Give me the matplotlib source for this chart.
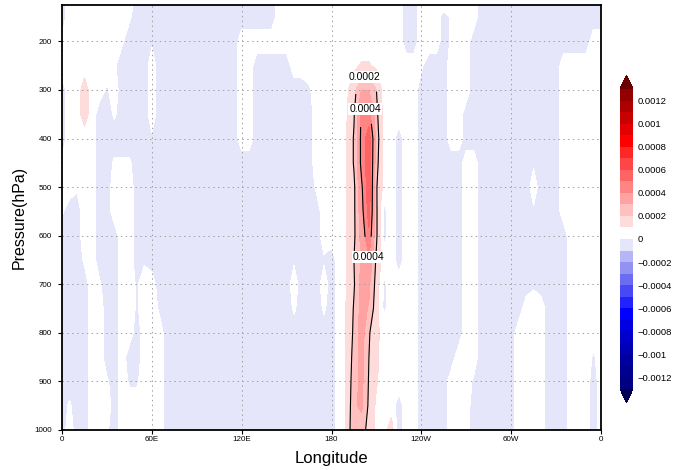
import numpy as np
import matplotlib
matplotlib.use("Agg")
import matplotlib.pyplot as plt
from matplotlib.colors import ListedColormap, BoundaryNorm

plt.rcParams['font.family'] = ['Liberation Sans', 'DejaVu Sans']

# grid of the cross-section
lons = np.arange(0, 361, 5)
pres = [125, 150, 200, 250, 300, 350, 400, 450, 500, 550, 600, 650, 700, 750, 800, 850, 900, 950, 1000]

# background field, one char per 5 deg column, blocks of 10 columns (units 1e-4)
# '-' weak negative, '~' very weak negative, ',' very weak positive, '.' weak positive, '1' 0.00015
char_val = {'-': -0.5, '~': -0.15, ',': 0.15, '.': 0.5, '1': 1.5}
rows = [
    "-......... ---------- ---------. .......... ......--.. ......---- ---------- ---",
    "-........, ---------- ---------. .......... ......--.. .-,...---- ---------- ---",
    ",.......,- --~------- ----...... .......... ......--.. .-,..----- ---------- -..",
    ".......,-- --.------- ----..---- -......... ........,- --...----- -------... ...",
    "-..1..~.-- --.------- ----..---- ---~...... ........-- --...----- -------... ...",
    "-..1.--,-- --.------- ----..---- ----...... ........-- --..------ -------... ...",
    "-....----- --~------- ----..---- ----...... .....-..-- --..------ -------... ...",
    ",....--,,, ---------- ---------- ----...... .....-..-- ----..---- ---~---... ...",
    "..,..--... ---------- ---------- ----,..... .....-..-- ----..---- ---.---... ...",
    ",--..--... ---------- ---------- -----..... .....-..-- ----..---- ---~---... ...",
    "---..---.. ---------- ---------- -----..... .....-..-- ----..---- --------.. ...",
    "---,.---.. -~-------- ---------- -~---~-... .....-..-- ----..---- --------.. ...",
    "----.,--.. ~..------- ---------- -.---.-... ........-- ----..---- ---~----.. ...",
    "----..--.. ~..~------ ---------- -,---,-... ........-- ----..---- --...---.. ...",
    "----..--.. -...------ ---------- -------... ........-- ----..---- -....---.. ...",
    "----..--.- -...------ ---------- -------... ........-- ---...---- -....---.. .~.",
    "----..,-.~ ~...------ ---------- -------... ........-- --...~---- -....---.. .-.",
    "-,--...-.. ....------ ---------- -------... .....-..-- --...----- -....---.. .-.",
    "-.--..,-.. ....------ ---------- -------... ....1-..-- --...----- -....---.. .-.",
]

# jet core columns (lon 185..215), units 1e-4
jet_lon = [185, 190, 195, 200, 205, 210, 215]
jet_vals = [
    [0.5, 0.5, 0.5, 0.5, 0.5, 0.5, 0.5],
    [0.5, 0.5, 0.5, 0.5, 0.5, 0.5, 0.5],
    [0.5, 0.5, 0.5, 0.5, 0.5, 0.5, 0.5],
    [0.5, 0.5, 0.8, 1.1, 1.1, 0.8, 0.5],
    [0.5, 0.8, 1.6, 3.0, 3.0, 2.0, 0.6],
    [0.5, 0.9, 1.9, 4.2, 4.4, 2.3, 0.6],
    [0.5, 1.0, 2.1, 4.3, 5.6, 2.6, 0.7],
    [0.5, 1.0, 2.1, 4.3, 5.6, 2.4, 0.7],
    [0.5, 1.0, 1.8, 3.8, 5.6, 2.1, 0.7],
    [0.5, 1.0, 1.8, 3.6, 5.4, 2.2, -0.3],
    [0.5, 1.0, 1.8, 3.3, 4.8, 2.2, -0.3],
    [0.5, 1.0, 2.0, 3.2, 3.9, 1.8, 0.5],
    [0.5, 1.0, 1.9, 3.3, 3.2, 1.6, -0.2],
    [0.5, 1.05, 2.1, 3.4, 2.9, 1.4, -0.2],
    [0.5, 1.1, 2.2, 3.5, 2.1, 1.3, 0.5],
    [0.5, 1.1, 2.4, 3.4, 2.0, 1.2, 0.5],
    [0.5, 1.1, 2.6, 3.3, 1.9, 1.1, 0.5],
    [0.5, 1.1, 2.8, 3.2, 1.8, 0.8, 0.5],
    [0.5, 1.1, 3.0, 2.5, 1.6, 0.7, 0.6],
]

field = np.array([[char_val[c] for c in r.replace(' ', '')] for r in rows])
cols = np.searchsorted(lons, jet_lon)
field[:, cols] = np.array(jet_vals)
field = field * 1e-4

# colour table
levels = np.arange(-13, 14) * 1e-4
blues = ['#000080', '#00008f', '#00009f', '#0000b4', '#0000c8', '#0000e0', '#0000ff',
         '#2222ff', '#4848f6', '#6c6cf2', '#9292f2', '#b6b6f6', '#e6e6fa']
reds = ['#ffdcdc', '#ffc0c0', '#ffa2a2', '#ff8484', '#ff6464', '#ff4646', '#ff2626',
        '#ff0000', '#e40000', '#c80000', '#ae0000', '#940000']
cmap = ListedColormap(blues + ['#ffffff'] + reds)
cmap.set_under('#000050')
cmap.set_over('#6a0000')
norm = BoundaryNorm(levels, cmap.N)

fig = plt.figure(figsize=(6.9, 4.7), dpi=100)
ax = fig.add_axes([62/690, 40/470, 539/690, 425/470])

cf = ax.contourf(lons, pres, field, levels=levels, cmap=cmap, norm=norm, extend='both')
cs = ax.contour(lons, pres, field, levels=[2e-4, 4e-4], colors='k', linewidths=0.8)

def fmt(v):
    return f"{v:.4f}"

lbls = ax.clabel(cs, fmt=fmt, fontsize=7.5, inline=True,
                 manual=[(202, 276), (203, 343), (204, 645)])
for t in lbls:
    t.set_rotation(0)
    t.set_bbox(dict(facecolor='white', edgecolor='none', pad=0.6))

ax.set_xlim(0, 360)
ax.set_ylim(1000, 125)
ax.set_xticks([0, 60, 120, 180, 240, 300, 360])
ax.set_xticklabels(['0', '60E', '120E', '180', '120W', '60W', '0'])
ax.set_yticks(np.arange(200, 1001, 100))
ax.tick_params(axis='both', direction='out', length=3, width=0.8, labelsize=5.8)
ax.tick_params(axis='x', pad=1)
ax.tick_params(axis='y', pad=4.5)
ax.grid(True, color='#a0a0a0', linestyle=(0, (1.5, 3.5)), linewidth=0.7)
for s in ax.spines.values():
    s.set_linewidth(1.3)

ax.set_xlabel('Longitude', fontsize=12, labelpad=6)
ax.set_ylabel('Pressure(hPa)', fontsize=11.5, labelpad=5)

cax = fig.add_axes([620/690, 67/470, 13/690, 328/470])
cb = fig.colorbar(cf, cax=cax, extend='both', extendfrac=0.047, drawedges=False)
cb.outline.set_visible(False)
cb.set_ticks(np.arange(-12, 13, 2) * 1e-4)
cb.set_ticklabels([(f"{v:.4f}".rstrip('0').rstrip('.')).replace('-', '\u2212')
                   for v in np.arange(-12, 13, 2) * 1e-4])
cax.minorticks_off()
cax.tick_params(length=0, labelsize=6.8, pad=3)

fig.savefig('out.png', dpi=100)
